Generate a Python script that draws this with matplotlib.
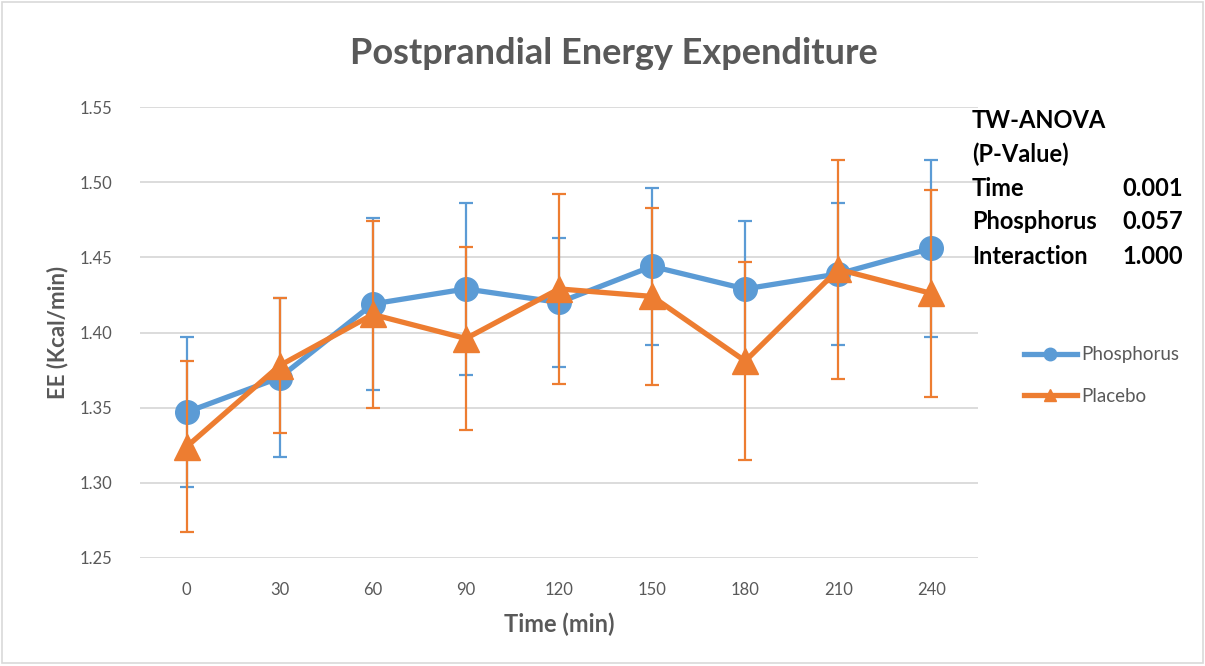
#!/usr/bin/python3
import matplotlib.pyplot as plt
from matplotlib.lines import Line2D
from matplotlib.patches import Rectangle

# Data
times = [0, 30, 60, 90, 120, 150, 180, 210, 240]
phosphorus = [1.347, 1.370, 1.419, 1.429, 1.420, 1.444, 1.429, 1.439, 1.456]
phosphorus_err = [0.050, 0.053, 0.057, 0.057, 0.043, 0.052, 0.045, 0.047, 0.059]
placebo = [1.324, 1.378, 1.412, 1.396, 1.429, 1.424, 1.381, 1.442, 1.426]
placebo_err = [0.057, 0.045, 0.062, 0.061, 0.063, 0.059, 0.066, 0.073, 0.069]

anova_labels = ['Time', 'Phosphorus', 'Interaction']
anova_values = ['0.001', '0.057', '1.000']

BLUE = '#5B9BD5'
ORANGE = '#ED7D31'
GREY = '#595959'

plt.rcParams['font.family'] = ['Lato', 'DejaVu Sans']

fig = plt.figure(figsize=(12.05, 6.66), dpi=100)
ax = fig.add_axes([0.1162, 0.1622, 0.6954, 0.6771])

xpos = list(range(len(times)))

ax.errorbar(xpos, phosphorus, yerr=phosphorus_err, color=BLUE, ecolor=BLUE,
            lw=3.8, marker='o', ms=17, elinewidth=1.6, capsize=5, capthick=1.6,
            zorder=3)
ax.errorbar(xpos, placebo, yerr=placebo_err, color=ORANGE, ecolor=ORANGE,
            lw=3.8, marker='^', ms=19, elinewidth=1.6, capsize=5, capthick=1.6,
            zorder=4)

ax.set_ylim(1.25, 1.55)
ax.set_yticks([1.25, 1.30, 1.35, 1.40, 1.45, 1.50, 1.55])
ax.set_yticklabels(['{:.2f}'.format(v) for v in ax.get_yticks()])
ax.set_xlim(-0.5, len(times) - 0.5)
ax.set_xticks(xpos)
ax.set_xticklabels([str(t) for t in times])
ax.yaxis.grid(True, color='#D9D9D9', lw=1.3)
ax.set_axisbelow(True)
for s in ax.spines.values():
    s.set_visible(False)
ax.tick_params(axis='y', length=0, colors=GREY, labelsize=12, pad=20)
ax.tick_params(axis='x', length=0, colors=GREY, labelsize=12, pad=17)

ax.set_xlabel('Time (min)', fontsize=17, fontweight='bold', color=GREY, labelpad=11)
fig.text(58 / 1205, 1 - 332 / 666, 'EE (Kcal/min)', rotation=90, fontsize=16,
         fontweight='bold', color=GREY, ha='center', va='center')
fig.text(0.5094, 1 - 53 / 666, 'Postprandial Energy Expenditure', fontsize=26,
         fontweight='bold', color=GREY, ha='center', va='center')

handles = [
    Line2D([], [], color=BLUE, lw=3.8, marker='o', ms=9),
    Line2D([], [], color=ORANGE, lw=3.8, marker='^', ms=9),
]
leg = ax.legend(handles, ['Phosphorus', 'Placebo'], loc='center left',
                bbox_to_anchor=(1.035, 0.405), frameon=False, fontsize=13.5,
                labelspacing=1.3, handlelength=2.8, handletextpad=0.25)
for t in leg.get_texts():
    t.set_color(GREY)

# ANOVA box
fig.text(972 / 1205, 1 - 120 / 666, 'TW-ANOVA', fontsize=17, fontweight='bold', va='center')
fig.text(972 / 1205, 1 - 154 / 666, '(P-Value)', fontsize=17, fontweight='bold', va='center')
for i, (lab, val) in enumerate(zip(anova_labels, anova_values)):
    y = 1 - (188 + 34 * i) / 666
    fig.text(972 / 1205, y, lab, fontsize=17, fontweight='bold', va='center')
    fig.text(1183 / 1205, y, val, fontsize=17, fontweight='bold', va='center', ha='right')

fig.patches.append(Rectangle((0.002, 0.004), 0.996, 0.993, transform=fig.transFigure,
                             fill=False, edgecolor='#D9D9D9', lw=1.2))

plt.savefig('out.png')
